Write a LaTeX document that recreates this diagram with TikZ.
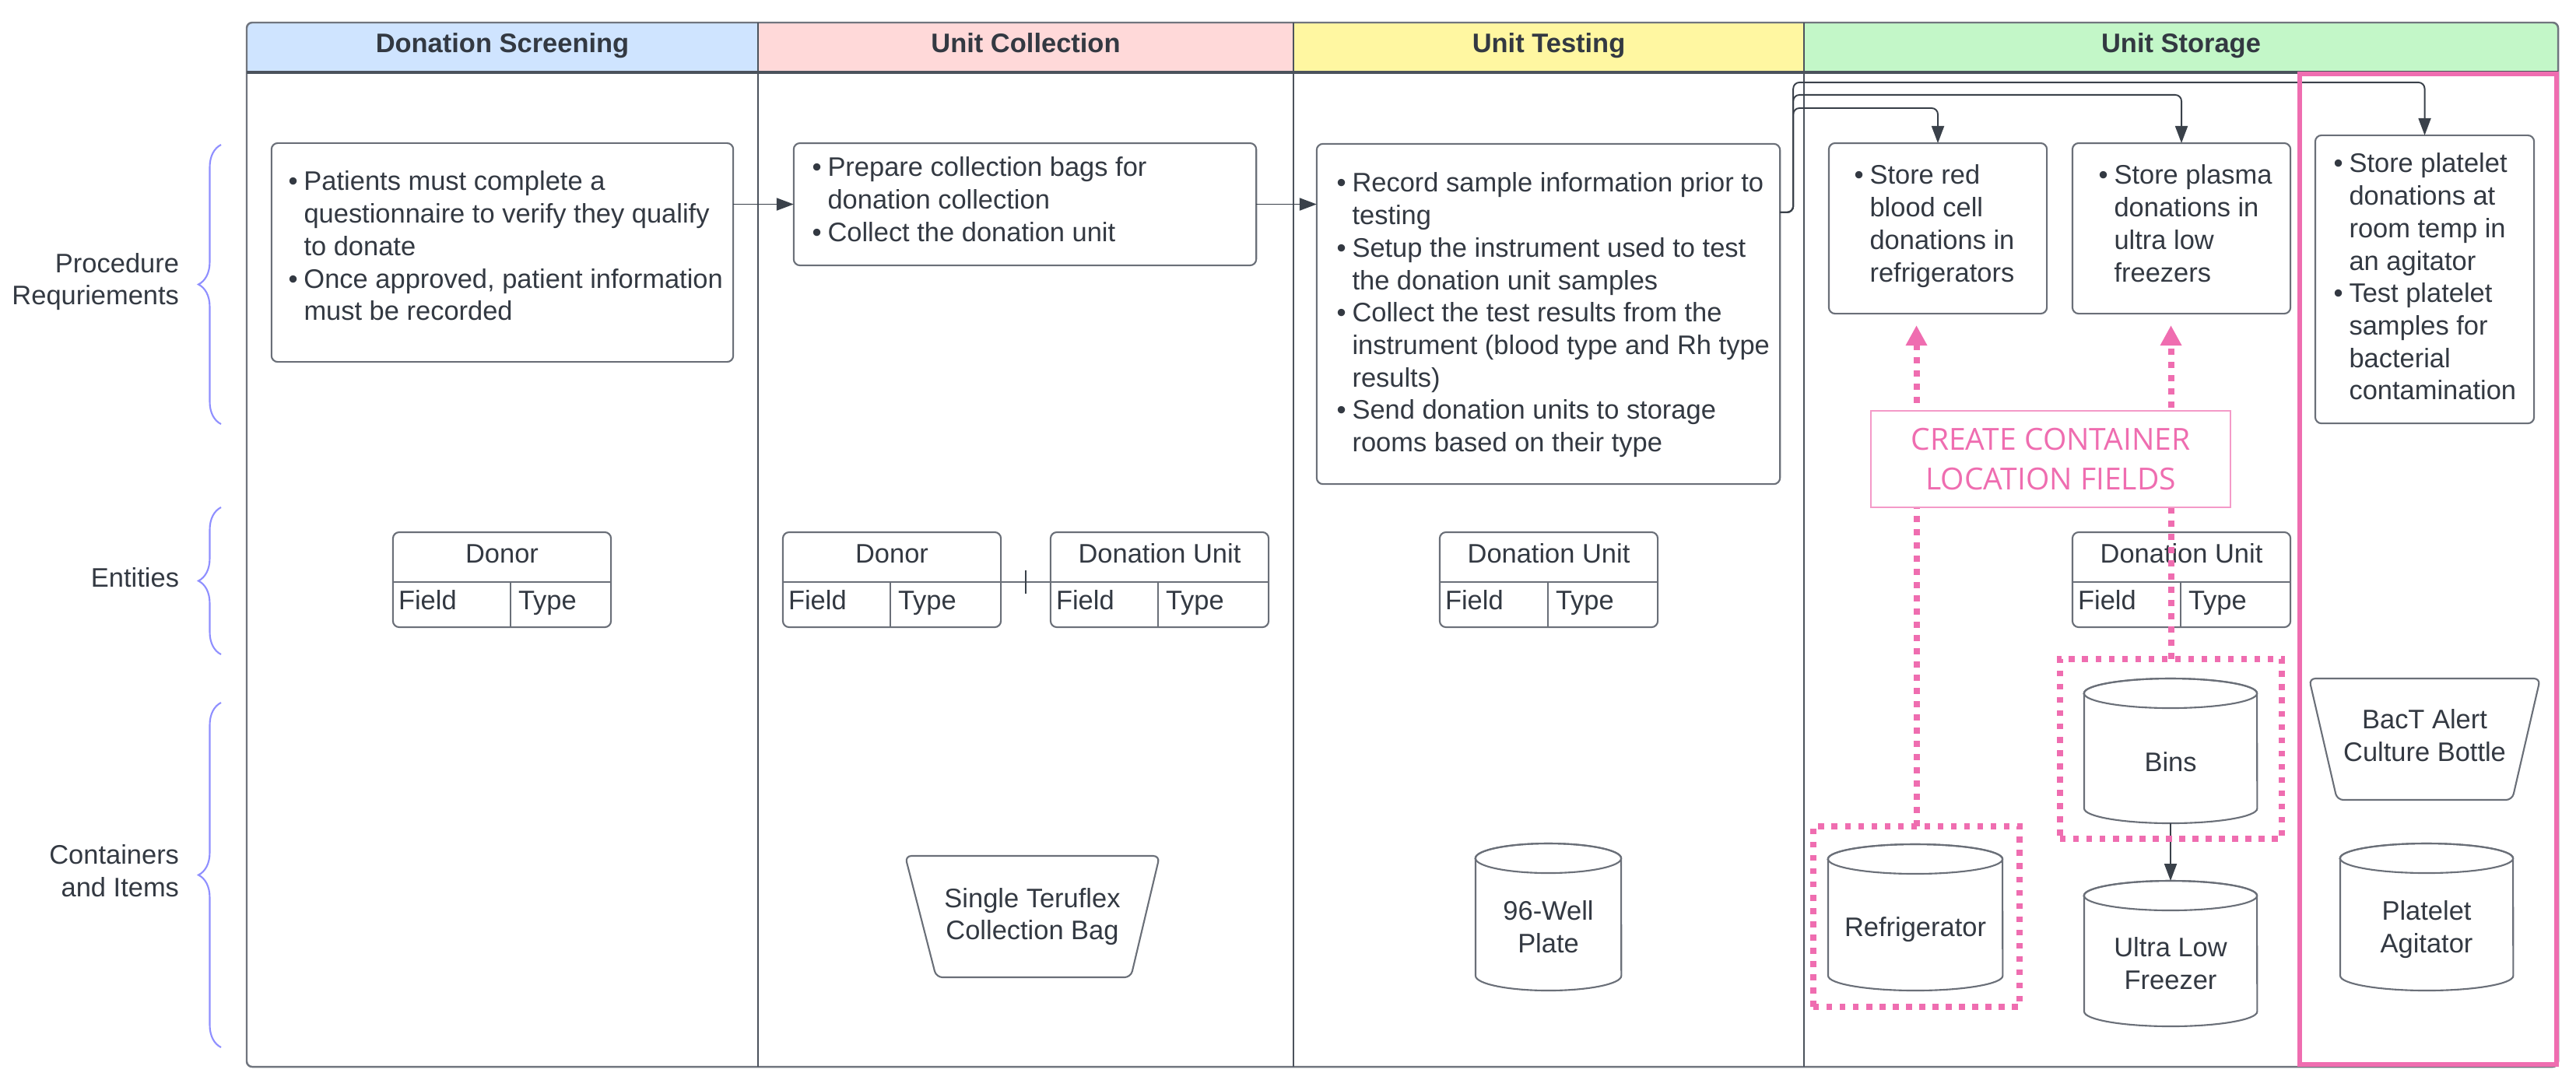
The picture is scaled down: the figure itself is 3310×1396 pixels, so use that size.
\documentclass[tikz,border=0pt]{standalone}
\usepackage{fontspec}
\setmainfont{Liberation Sans}
\newfontfamily\labfont{Open Sans}
\usetikzlibrary{arrows.meta,decorations.pathreplacing,calc}
\definecolor{txtc}{HTML}{333942}
\definecolor{bordc}{HTML}{6A6F78}
\definecolor{linec}{HTML}{3A414A}
\definecolor{framec}{HTML}{70757E}
\definecolor{divc}{HTML}{4B525C}
\definecolor{hblue}{HTML}{CFE4FF}
\definecolor{hpink}{HTML}{FFD9D9}
\definecolor{hyel}{HTML}{FFF7A1}
\definecolor{hgreen}{HTML}{C3F7C8}
\definecolor{pinkc}{HTML}{EF6DB0}
\definecolor{pinkl}{HTML}{F49AC8}
\definecolor{bracec}{HTML}{8F8FFF}
\newcommand{\bi}{\strut\makebox[0.2cm][l]{\textbullet}}
\newcommand{\ci}{\strut\hspace*{0.2cm}}
\tikzset{
 txtf/.style={font=\fontsize{9.8pt}{11.86pt}\selectfont, text=txtc, inner sep=0pt, outer sep=0pt},
 hdr/.style={txtf, font=\fontsize{9.8pt}{11.86pt}\selectfont\bfseries, anchor=base},
 pbox/.style={draw=bordc, line width=0.6pt, rounded corners=0.08cm, fill=white, inner sep=0pt, outer sep=0pt},
 btxt/.style={txtf, align=left, anchor=north west},
 shp/.style={draw=bordc, line width=0.6pt},
 conn/.style={draw=linec, line width=0.55pt, rounded corners=0.08cm, -{Triangle[length=0.22cm,width=0.16cm]}},
 tbl/.style={pbox, minimum width=2.8cm, minimum height=1.22cm},
 dotbox/.style={draw=pinkc, line width=0.08cm, dash pattern=on 0.075cm off 0.095cm, inner sep=0pt, outer sep=0pt},
 pinkarr/.style={draw=pinkc, line width=0.08cm, dash pattern=on 0.075cm off 0.095cm, -{Triangle[length=0.26cm,width=0.26cm,fill=pinkc]}},
 brc/.style={draw=bracec, line width=0.6pt, decorate, decoration={brace, amplitude=0.29cm}},
 ghost/.style={inner sep=0pt, outer sep=0pt},
}
% table: name, left x, divider x, title
\newcommand{\tabl}[4]{%
 \node[tbl] (#1) at ({#2+140},745) {};
 \draw[shp] (#2,748) -- ({#2+280},748);
 \draw[shp] (#3,748) -- (#3,806);
 \node[txtf, anchor=base] (#1h) at ({#2+140},723) {#4};
 \node[txtf, anchor=base west] (#1f) at ({#2+7},783) {Field};
 \node[txtf, anchor=base west] (#1y) at ({#3+10},783) {Type};
}
% cylinder: name, x1, x2, top, bottom, text y, text
\newcommand{\cyl}[7]{%
 \node[ghost, minimum width={(#3-#2)*0.01cm}, minimum height={(#5-#4)*0.01cm}] (#1) at ({(#2+#3)/2},{(#4+#5)/2}) {};
 \filldraw[shp, fill=white] (#2,{#4+19}) -- (#2,{#5-19}) arc[start angle=180, end angle=360, x radius={(#3-#2)*0.005cm}, y radius=0.19cm] -- (#3,{#4+19}) arc[start angle=0, end angle=180, x radius={(#3-#2)*0.005cm}, y radius=0.19cm] -- cycle;
 \draw[shp] ({(#2+#3)/2},{#4+19}) ellipse[x radius={(#3-#2)*0.005cm}, y radius=0.19cm];
 \node[txtf, align=center] (#1t) at ({(#2+#3)/2},#6) {#7};
}
% trapezoid: name, tx1, tx2, ty, bx1, bx2, by, text y, text
\newcommand{\trap}[9]{%
 \node[ghost, minimum width={(#3-#2)*0.01cm}, minimum height={(#7-#4)*0.01cm}] (#1) at ({(#2+#3)/2},{(#4+#7)/2}) {};
 \filldraw[shp, fill=white, rounded corners=0.08cm] (#2,#4) -- (#3,#4) -- (#6,#7) -- (#5,#7) -- cycle;
 \node[txtf, align=center] (#1t) at ({(#2+#3)/2},#8) {#9};
}
\begin{document}
\begin{tikzpicture}[x=0.01cm, y=-0.01cm]
\useasboundingbox (0,0) rectangle (3310,1396);
\fill[white] (0,0) rectangle (3310,1396);
% swimlane frame
\begin{scope}
 \clip[rounded corners=0.07cm] (317,29) rectangle (3287,1371);
 \fill[hblue] (317,29) rectangle (974,93);
 \fill[hpink] (974,29) rectangle (1662,93);
 \fill[hyel] (1662,29) rectangle (2318,93);
 \fill[hgreen] (2318,29) rectangle (3287,93);
\end{scope}
\draw[framec, line width=0.7pt, rounded corners=0.07cm] (317,29) rectangle (3287,1371);
\draw[divc, line width=0.6pt] (974,29) -- (974,1371);
\draw[divc, line width=0.6pt] (1662,29) -- (1662,1371);
\draw[divc, line width=0.6pt] (2318,29) -- (2318,1371);
\draw[divc, line width=0.9pt] (317,93) -- (3287,93);
\node[hdr] (h1) at (645.5,67) {Donation Screening};
\node[hdr] (h2) at (1318,67) {Unit Collection};
\node[hdr] (h3) at (1990,67) {Unit Testing};
\node[hdr] (h4) at (2802.5,67) {Unit Storage};

% row labels and braces
\node[txtf, align=right, anchor=east] (r1) at (230,362) {Procedure\\Requriements};
\node[txtf, anchor=east] (r2) at (230,742) {Entities};
\node[txtf, align=right, anchor=east] (r3) at (230,1119) {Containers\\and Items};
\draw[brc] (284,545) -- (284,186);
\draw[brc] (284,841) -- (284,652);
\draw[brc] (284,1346) -- (284,903);

% procedure boxes
\node[pbox, minimum width=5.93cm, minimum height=2.81cm] (scr) at (645.5,324.5) {};
\node[pbox, minimum width=5.94cm, minimum height=1.57cm] (col) at (1317,262.5) {};
\node[pbox, minimum width=5.95cm, minimum height=4.37cm] (test) at (1989.5,403.5) {};
\node[pbox, minimum width=2.80cm, minimum height=2.19cm] (rbc) at (2490,293.5) {};
\node[pbox, minimum width=2.80cm, minimum height=2.19cm] (plasma) at (2803,293.5) {};
\node[pbox, minimum width=2.81cm, minimum height=3.70cm] (plt) at (3115.5,359) {};

\node[btxt] (scrt) at (370.5,215.7) {\bi Patients must complete a\\\ci questionnaire to verify they qualify\\\ci to donate\\\bi Once approved, patient information\\\ci must be recorded};
\node[btxt] (colt) at (1043.5,197.7) {\bi Prepare collection bags for\\\ci donation collection\\\bi Collect the donation unit};
\node[btxt] (testt) at (1717.5,217.7) {\bi Record sample information prior to\\\ci testing\\\bi Setup the instrument used to test\\\ci the donation unit samples\\\bi Collect the test results from the\\\ci instrument (blood type and Rh type\\\ci results)\\\bi Send donation units to storage\\\ci rooms based on their type};
\node[btxt] (rbct) at (2382.5,207.7) {\bi Store red\\\ci blood cell\\\ci donations in\\\ci refrigerators};
\node[btxt] (plasmat) at (2696.5,207.7) {\bi Store plasma\\\ci donations in\\\ci ultra low\\\ci freezers};
\node[btxt] (pltt) at (2998.5,192.7) {\bi Store platelet\\\ci donations at\\\ci room temp in\\\ci an agitator\\\bi Test platelet\\\ci samples for\\\ci bacterial\\\ci contamination};

% connectors
\draw[conn] (scr.east |- col.west) -- (col.west);
\draw[conn] (col.east) -- (col.east -| test.west);
\coordinate (tout) at ($(test.north east)+(0,88)$);
\draw[conn] (tout) -- ++(17,0) |- ($(plt.north)+(0,-68)$) -- (plt.north);
\draw[conn] (tout) -- ++(17,0) |- ($(plasma.north)+(0,-62)$) -- (plasma.north);
\draw[conn] (tout) -- ++(17,0) |- ($(rbc.north)+(0,-45)$) -- (rbc.north);

% entities
\tabl{dn1}{505}{656}{Donor}
\tabl{dn2}{1006}{1144}{Donor}
\tabl{du2}{1350}{1488}{Donation Unit}
\tabl{du3}{1850}{1989}{Donation Unit}
\tabl{du4}{2663}{2802}{Donation Unit}
\draw[shp] ([yshift=-0.03cm]dn2.east) -- coordinate[pos=0.5] (tk) ([yshift=-0.03cm]du2.west);
\draw[linec, line width=0.8pt] ([yshift=0.15cm]tk) -- ([yshift=-0.15cm]tk);

% containers and items
\trap{bag}{1163}{1490}{1100}{1203}{1453}{1256}{1178}{Single Teruflex\\Collection Bag}
\cyl{plate}{1896}{2083}{1084}{1273}{1191}{96-Well\\Plate}
\cyl{fridge}{2349}{2573}{1085}{1273}{1195}{Refrigerator}
\cyl{bins}{2678}{2900}{872}{1058}{979.5}{Bins}
\cyl{ulf}{2678}{2900}{1132}{1319}{1238.5}{Ultra Low\\Freezer}
\trap{bact}{2967}{3264}{872}{3003}{3228}{1028}{945}{BacT Alert\\Culture Bottle}
\cyl{agit}{3007}{3229}{1084}{1273}{1194.5}{Platelet\\Agitator}
\draw[conn] (bins.south) -- (ulf.north);

% pink highlights
\node[dotbox, minimum width=2.65cm, minimum height=2.32cm] (refbox) at (2462.5,1178) {};
\node[dotbox, minimum width=2.85cm, minimum height=2.31cm] (binbox) at (2789.5,962.5) {};
\draw[pinkarr, shorten >=0.15cm] (refbox.north) -- (refbox.north |- rbc.south);
\draw[pinkarr, shorten >=0.15cm] (binbox.north) -- (binbox.north |- plasma.south);
\node[draw=pinkl, line width=0.5pt, fill=white, minimum width=4.62cm, minimum height=1.24cm, inner sep=0pt, text=pinkc, font=\labfont\fontsize{11.1pt}{14.74pt}\selectfont, align=center] (lab) at (2635,590) {CREATE CONTAINER\\LOCATION FIELDS};
\draw[pinkc, line width=0.06cm] (2955,95) rectangle (3285,1368);
\end{tikzpicture}
\end{document}
